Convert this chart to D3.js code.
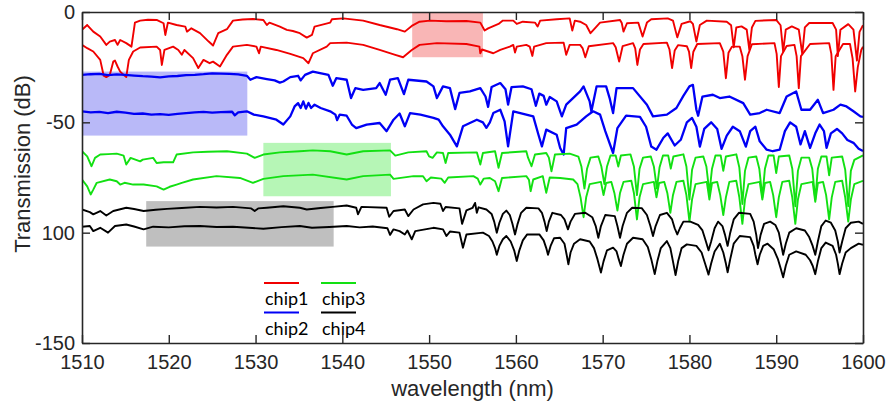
<!DOCTYPE html>
<html>
<head>
<meta charset="utf-8">
<script src="https://cdn.jsdelivr.net/npm/d3@7"></script>
<style>
  html, body { margin: 0; padding: 0; background: #ffffff; }
  svg { display: block; }
</style>
</head>
<body>
<svg id="chart" width="891" height="402"></svg>
<script>
// Axis ticks
const wavelengthTicks = [1510, 1520, 1530, 1540, 1550, 1560, 1570, 1580, 1590, 1600];
const transmissionTicks = [0, -50, -100, -150];
const transmissionTickLabels = ["0", "-50", "100", "-150"];

// Legend entries
const chipNames = ["chip1", "chip2", "chip3", "chip4"];

// Measured spectra: [wavelength (nm), transmission (dB)]
const chip1Upper = [[1510,-8.1],[1510.6,-5.9],[1511.3,-8.9],[1512.1,-11.1],[1512.8,-14.9],[1513.2,-13.4],[1513.8,-12.7],[1514.1,-14.9],[1514.4,-12.7],[1515.1,-14.1],[1515.7,-15.7],[1516.1,-4.8],[1516.7,-3.9],[1517.6,-3.5],[1518.6,-3.6],[1519.4,-5.1],[1519.6,-10.4],[1519.9,-4.8],[1520.9,-5.9],[1521.9,-6.6],[1522.1,-8.9],[1522.6,-7.4],[1523.6,-9.6],[1524.6,-13.4],[1525.1,-15.2],[1525.7,-9.6],[1526.7,-7.8],[1527.4,-3.9],[1528.5,-3.4],[1529.7,-3.2],[1530.9,-3.6],[1531.3,-5.9],[1531.6,-4.8],[1532.8,-6.6],[1533.6,-8.1],[1534.3,-8.6],[1535.1,-9.6],[1535.9,-11.6],[1536.5,-10.4],[1536.8,-6.6],[1538.6,-4.8],[1538.8,-3.3],[1540.1,-2.9],[1542.4,-3.9],[1544.3,-5.9],[1546.3,-7.8],[1547.2,-8.9],[1548,-6.3],[1548.9,-4.4],[1550.1,-3.9],[1552,-4.2],[1554.3,-4.1],[1555.9,-4.8],[1556.4,-8.4],[1556.8,-7.4],[1558,-5.4],[1558.5,-3.9],[1559.7,-3.9],[1560.1,-5.4],[1560.8,-4.4],[1562.2,-4.8],[1562.5,-6.6],[1562.8,-3.9],[1564.7,-3.3],[1566.2,-2.9],[1566.5,-8.4],[1566.8,-3.9],[1567.4,-4.4],[1568.1,-5.9],[1568.6,-9.6],[1569.1,-7.4],[1569.7,-4.8],[1572,-3.6],[1572.2,-5],[1572.4,-8.9],[1572.8,-5.1],[1574.1,-4.8],[1574.6,-11.1],[1575.1,-4.8],[1575.6,-3.3],[1577.5,-2.9],[1578.1,-3.9],[1578.6,-11.5],[1579.1,-5.4],[1580.1,-4.2],[1580.4,-5.4],[1580.8,-13.4],[1581.2,-5.9],[1582,-3.9],[1584.3,-4.4],[1584.8,-6],[1585.1,-16],[1585.4,-7],[1586,-6.5],[1586.6,-8],[1586.9,-17],[1587.2,-7],[1587.6,-4],[1590,-3.6],[1590.5,-6],[1590.8,-18],[1591.1,-8],[1591.8,-6.5],[1592.6,-8],[1593,-19],[1593.3,-7],[1593.8,-5],[1596.5,-5],[1596.9,-8],[1597.1,-20],[1597.4,-8],[1598.3,-5.5],[1598.9,-8],[1599.3,-22],[1599.6,-9],[1600,-6]];

const chip1Lower = [[1510,-14.9],[1510.6,-16.4],[1511.3,-17.9],[1512.1,-21.7],[1512.5,-28.9],[1512.8,-29.5],[1513.2,-28.5],[1513.6,-22.5],[1513.8,-22],[1514.1,-24.7],[1514.4,-27],[1514.8,-28.5],[1515.1,-29.5],[1515.4,-21.7],[1515.9,-17.9],[1516.7,-16.1],[1518.6,-15.7],[1519,-17.2],[1519.2,-24],[1519.5,-17.2],[1520.5,-15.7],[1521.1,-17.2],[1521.5,-19.4],[1521.8,-17.2],[1522.8,-20.9],[1523.4,-25.4],[1524,-21.7],[1524.7,-23.2],[1525.1,-22.5],[1525.9,-24.7],[1526.7,-19.4],[1527.4,-15.7],[1529,-14.9],[1530.1,-15.7],[1530.4,-18.7],[1530.6,-15.7],[1532.4,-17.2],[1534,-19],[1535.5,-20.9],[1536.1,-23.2],[1536.6,-18.7],[1538.2,-15.7],[1538.6,-14.1],[1540.5,-13.9],[1542.4,-14.9],[1544.3,-17.2],[1546.1,-19.4],[1547,-20.5],[1548,-17.2],[1548.9,-14.9],[1550.9,-14.1],[1554.3,-14.5],[1555.8,-15.7],[1555.9,-18.7],[1556.1,-17],[1557.4,-18.7],[1558.2,-17.2],[1559.3,-15.7],[1559.7,-14.9],[1559.9,-18.4],[1560.1,-15.7],[1561.2,-14.9],[1561.6,-15.7],[1561.9,-19.9],[1562.1,-15.7],[1563.5,-14.1],[1565.5,-13.9],[1565.8,-19.4],[1566.2,-14.9],[1567.4,-14.9],[1567.7,-16.5],[1568,-20.5],[1568.4,-15.5],[1571.2,-14.1],[1571.5,-16],[1571.9,-22.5],[1572.3,-15.5],[1573.5,-14.1],[1573.75,-16.5],[1574,-24],[1574.3,-17],[1574.7,-14.5],[1577.4,-13.9],[1577.7,-17],[1578,-25.4],[1578.3,-17.5],[1578.7,-15],[1579.7,-15.5],[1579.95,-18],[1580.2,-25.4],[1580.45,-18],[1580.9,-14.5],[1583.5,-14.1],[1583.9,-18],[1584.2,-30],[1584.5,-18.5],[1584.9,-15.7],[1585.8,-15.7],[1586.1,-20],[1586.4,-30.7],[1586.7,-20],[1587.2,-14.6],[1589.8,-14.1],[1590.05,-19],[1590.3,-34],[1590.55,-20],[1591.2,-15.4],[1592.1,-14.9],[1592.35,-20],[1592.6,-34.5],[1592.85,-20],[1593.9,-14.5],[1596.1,-14.1],[1596.35,-19],[1596.6,-35.3],[1596.85,-20],[1597.7,-14.5],[1598.5,-14.5],[1598.8,-21],[1599.1,-36],[1599.4,-25],[1599.8,-17.2],[1600,-15.7]];

const chip2Upper = [[1510,-28.5],[1511,-28.2],[1512,-28],[1513,-28.6],[1514,-28.3],[1515,-28.5],[1516,-28.8],[1517,-29.1],[1518,-29.3],[1519,-29.6],[1520,-29.2],[1521,-29],[1522,-28.6],[1523,-28.5],[1524,-28.2],[1525,-27.8],[1526,-27.9],[1527,-28],[1528,-28.3],[1529,-28.9],[1529.4,-30.7],[1530.1,-29.5],[1531.3,-30.4],[1532.2,-31],[1532.8,-32],[1533.2,-31.5],[1534,-29.5],[1534.9,-28.9],[1535.2,-31],[1535.7,-28.5],[1536.6,-27],[1538.4,-28.5],[1538.9,-33.4],[1539.3,-30],[1540.5,-30.7],[1541,-39],[1541.5,-34.5],[1542.4,-35.3],[1543.9,-34.5],[1544.3,-32.2],[1545,-37.5],[1545.5,-30.7],[1546.4,-30],[1547.1,-37.2],[1547.6,-30.7],[1549.7,-31.5],[1550.5,-33.7],[1550.9,-39],[1551.6,-33.7],[1552.4,-34.5],[1553,-44],[1553.5,-36.7],[1554.7,-36],[1555.9,-34.5],[1556.5,-38.3],[1556.8,-43],[1557.2,-34],[1558.2,-32.2],[1558.8,-35],[1559.1,-42],[1559.5,-34],[1560.8,-33.7],[1561.8,-35],[1562.3,-42.5],[1562.7,-37],[1563.2,-38],[1563.5,-42],[1563.9,-38.5],[1564.7,-40.5],[1565.3,-47.3],[1565.8,-42],[1567.4,-36],[1567.8,-33.7],[1568.5,-40.5],[1568.7,-45],[1569.3,-33.7],[1570.4,-33.7],[1570.8,-39],[1571.2,-45.8],[1571.6,-34.5],[1573.5,-34.5],[1575.1,-42],[1575.8,-47.3],[1577.4,-46.5],[1578.5,-43.5],[1579.3,-38],[1580,-33.7],[1580.4,-33],[1580.8,-44.3],[1581,-47],[1581.5,-38.3],[1582.7,-37.5],[1583.5,-39],[1584.6,-38.3],[1586.2,-41.3],[1587,-46.5],[1588.1,-45.8],[1588.9,-44.3],[1590.4,-45.8],[1591.2,-38.3],[1592.3,-36],[1592.9,-44.3],[1593.9,-44.3],[1594.8,-39.8],[1595.4,-45.8],[1596.6,-44.3],[1597.4,-42],[1598.1,-42.8],[1598.9,-45],[1599.7,-47.3],[1600,-47.5]];

const chip2Lower = [[1510,-45],[1511,-45.5],[1512,-45.3],[1513,-45.8],[1514,-45.2],[1515,-45.6],[1516,-46.2],[1517,-46],[1518,-46.5],[1519,-46.3],[1520,-46.6],[1521,-46.2],[1522,-45.8],[1523,-45.5],[1524,-45.3],[1525,-45.6],[1526,-45.4],[1527.3,-45.2],[1527.6,-46.8],[1528,-45.5],[1529,-45],[1529.8,-46.5],[1530.9,-47.3],[1532.4,-48.8],[1533.2,-51],[1534,-47.3],[1534.5,-42.8],[1534.9,-41.3],[1535.2,-43.5],[1535.5,-40.5],[1535.8,-43.8],[1536.1,-41.2],[1536.4,-43.5],[1536.8,-42],[1537.5,-43.5],[1538.6,-45],[1539.2,-46.5],[1539.4,-49],[1539.7,-46.5],[1540.5,-47],[1541.1,-51],[1541.6,-52.6],[1542.8,-51],[1544.3,-50.3],[1545.1,-54],[1545.9,-48.8],[1546.6,-46],[1547.2,-51.8],[1547.8,-45.8],[1549,-46.5],[1550.5,-48],[1551.1,-48.8],[1551.6,-51.8],[1552.4,-55.6],[1553.2,-60.9],[1553.9,-51.8],[1555.5,-48.8],[1556.2,-50],[1556.6,-52.5],[1557,-50],[1557.4,-45.8],[1558.2,-44.3],[1558.7,-49.6],[1559.1,-60.9],[1559.7,-45],[1562,-47.3],[1562.6,-55.6],[1563,-60.9],[1563.5,-53.3],[1564.7,-55.6],[1565.1,-61.6],[1565.5,-64.6],[1565.8,-52.6],[1567,-51],[1568.1,-47.3],[1568.9,-45],[1569.7,-46.5],[1570.3,-54],[1571.2,-63.9],[1571.7,-52.6],[1572.7,-47],[1574.3,-47.5],[1575,-52],[1575.6,-61],[1576.2,-62.4],[1577,-57],[1577.5,-55],[1578.3,-60.5],[1579,-57.9],[1579.7,-50],[1580.3,-48],[1580.8,-52],[1581.2,-61],[1581.7,-53],[1582.5,-50],[1583.2,-53],[1583.7,-62],[1584.3,-56],[1585,-52],[1585.8,-54],[1586.5,-61],[1587,-54],[1587.6,-52],[1588.1,-58.6],[1588.9,-62.4],[1589.6,-63.1],[1590.4,-62.4],[1591,-54],[1591.6,-50],[1592.3,-52],[1592.8,-60],[1593.3,-54],[1593.9,-61.6],[1594.5,-55],[1595,-51],[1595.5,-54],[1595.8,-61.6],[1596.3,-55],[1597,-53],[1597.6,-55],[1598.2,-58],[1598.9,-59.3],[1599.5,-62],[1600,-63]];

const chip3Upper = [[1510,-63.1],[1510.6,-65.4],[1511.1,-69.9],[1511.5,-66.1],[1512.1,-64.6],[1513,-64.4],[1514,-64.2],[1514.8,-65.1],[1515.1,-69.1],[1515.6,-66.1],[1516.7,-67.7],[1517,-66.9],[1518.2,-66.1],[1518.6,-68.4],[1519.4,-68.1],[1520.5,-68.1],[1520.9,-64.6],[1522.8,-63.6],[1524.5,-63.3],[1526.7,-63.1],[1529,-64.2],[1529.9,-66.1],[1530.9,-64.6],[1532.8,-63.6],[1535.1,-63.1],[1536.6,-62.7],[1538.6,-63.1],[1540.5,-64.6],[1542.4,-63.1],[1545.5,-62.7],[1546.1,-65.1],[1547.6,-63.6],[1549.7,-63.1],[1550,-65.4],[1550.4,-66.1],[1550.9,-63.6],[1551.6,-63.9],[1551.9,-68.4],[1552.2,-63.9],[1555.5,-63.6],[1555.9,-69.1],[1556.2,-63.9],[1557.6,-63.1],[1558,-70.6],[1558.4,-63.9],[1561.2,-63.1],[1561.4,-66],[1561.8,-69.9],[1562.2,-64.6],[1563.5,-63.9],[1563.8,-66],[1564.1,-72.2],[1564.5,-64.6],[1566.2,-64.2],[1567.2,-65.5],[1567.55,-70],[1567.9,-80],[1568.2,-71],[1568.6,-66],[1569.5,-65.5],[1569.85,-70],[1570.2,-78],[1570.5,-70],[1570.9,-65],[1571.5,-65],[1571.8,-70],[1572.1,-65],[1573.2,-64.5],[1573.6,-70],[1573.95,-83],[1574.25,-71],[1574.65,-66],[1575.55,-65.5],[1575.9,-70],[1576.25,-80],[1576.55,-70.5],[1576.95,-65],[1577.55,-65],[1577.85,-71],[1578.15,-65.5],[1579.3,-64.5],[1579.65,-70],[1580,-85],[1580.3,-71.5],[1580.7,-66],[1581.6,-65.5],[1581.95,-70],[1582.3,-82],[1582.6,-71],[1583,-65],[1583.6,-65],[1583.9,-72],[1584.2,-65.5],[1585.4,-64.5],[1585.75,-70.5],[1586.1,-87],[1586.4,-72],[1586.8,-66],[1587.7,-65.5],[1588.05,-71],[1588.4,-84],[1588.7,-71],[1589.1,-65],[1589.7,-65],[1590,-73],[1590.3,-65.5],[1591.5,-65],[1591.85,-71],[1592.2,-88],[1592.5,-72],[1592.9,-66],[1593.8,-66],[1594.15,-71],[1594.5,-85],[1594.8,-71],[1595.2,-65.5],[1595.8,-65.5],[1596.1,-74],[1596.4,-66],[1597.6,-65.5],[1597.95,-71.5],[1598.3,-88],[1598.6,-72],[1599,-67],[1600,-65]];

const chip3Lower = [[1510,-75.9],[1510.6,-79],[1511,-82.7],[1511.3,-80.5],[1511.7,-77.4],[1513.2,-75.9],[1514,-76.7],[1514.4,-78.2],[1514.9,-77.4],[1515.9,-78.2],[1517.1,-78.2],[1518.6,-79],[1519.4,-80.5],[1520.1,-79.2],[1520.9,-78.2],[1521.5,-77.4],[1522.8,-75.9],[1525.5,-74.4],[1528.2,-75.2],[1529.7,-77.4],[1530.9,-75.6],[1533.2,-74.4],[1536.6,-73.7],[1540.5,-75.9],[1542.4,-74.4],[1545.5,-73.7],[1545.9,-75.6],[1548.2,-74.4],[1549.3,-74.4],[1549.7,-76.7],[1550.2,-75],[1551.4,-75.5],[1551.8,-77.4],[1552.2,-75],[1555.1,-74.4],[1555.6,-75.5],[1555.9,-78.2],[1556.3,-75.5],[1557,-75.2],[1557.6,-76.7],[1558,-81.2],[1558.4,-75.2],[1561.2,-74.4],[1561.5,-76],[1561.7,-81.2],[1562,-75.9],[1563.1,-74.4],[1563.5,-81.9],[1563.9,-75],[1565.1,-75.2],[1566.6,-75.9],[1567.1,-78],[1567.45,-84],[1567.8,-93],[1568.1,-84],[1568.5,-78],[1569.8,-77],[1570.1,-83],[1570.4,-77.5],[1571,-77],[1571.35,-82],[1571.7,-90],[1572,-82],[1572.4,-77],[1573.3,-76.5],[1573.6,-82],[1573.95,-94],[1574.25,-84],[1574.65,-78],[1575.9,-77],[1576.2,-84],[1576.5,-77.5],[1577.1,-77],[1577.45,-82],[1577.8,-91],[1578.1,-83],[1578.5,-77],[1579.3,-76.5],[1579.65,-83],[1580,-95],[1580.3,-85],[1580.7,-78],[1582,-77],[1582.3,-85],[1582.6,-77.5],[1583.2,-77],[1583.55,-83],[1583.9,-92],[1584.2,-84],[1584.6,-77],[1585.4,-76.5],[1585.75,-84],[1586.1,-96],[1586.4,-85],[1586.8,-78],[1588.1,-77],[1588.4,-85],[1588.7,-77.5],[1589.3,-77],[1589.65,-83],[1590,-93],[1590.3,-84],[1590.7,-77],[1591.5,-76.5],[1591.85,-84],[1592.2,-96],[1592.5,-85],[1592.9,-78],[1594.2,-77],[1594.5,-86],[1594.8,-77.5],[1595.4,-77],[1595.75,-83],[1596.1,-94],[1596.4,-84],[1596.8,-77],[1597.6,-76.5],[1597.95,-84],[1598.3,-95],[1598.6,-85],[1599,-78],[1600,-76.5]];

const chip4Upper = [[1510,-89.5],[1510.9,-90.7],[1511.3,-91.7],[1512.1,-90.2],[1512.8,-92.2],[1513.6,-90.2],[1515.1,-88.7],[1516,-89.3],[1517.1,-90.2],[1518.5,-89.6],[1519.8,-89.2],[1521.5,-88.8],[1523.6,-88.3],[1525.5,-88.6],[1527.4,-88.3],[1529.5,-89],[1529.9,-90.2],[1530.3,-89],[1531.3,-88.7],[1533.2,-88],[1535.1,-88.7],[1535.9,-89.5],[1537.5,-88.8],[1538.9,-88.3],[1540.5,-87.7],[1541.6,-88.7],[1541.8,-91.7],[1542.2,-88.3],[1545.1,-88.7],[1545.4,-92.8],[1545.9,-90.2],[1547.2,-89.5],[1547.6,-92.5],[1548.2,-89.5],[1549.3,-87.2],[1550.5,-86.5],[1551.3,-86.9],[1551.6,-90.2],[1551.9,-88.4],[1553.5,-89],[1553.8,-96],[1554.3,-89.9],[1555,-88.8],[1555.3,-86.5],[1555.5,-91],[1555.7,-88.5],[1556.6,-89.5],[1557.2,-91.5],[1557.5,-95],[1557.8,-100],[1558.1,-95.5],[1558.5,-91.5],[1558.9,-90],[1559.3,-92],[1559.6,-96],[1559.9,-100.8],[1560.2,-96],[1560.6,-91],[1561.2,-88.7],[1562.6,-89],[1563,-91],[1563.3,-95],[1563.55,-99.3],[1563.8,-95],[1564.2,-91],[1565.2,-92],[1565.6,-94],[1566,-98.5],[1566.3,-95],[1566.8,-91.5],[1568,-91],[1568.8,-93],[1569.2,-97],[1569.5,-102.3],[1569.8,-97],[1570.3,-92],[1571.4,-92.5],[1571.7,-97],[1572,-102.3],[1572.3,-97],[1572.8,-91],[1573.4,-88.7],[1574.5,-88.9],[1575.1,-92],[1575.5,-97],[1575.8,-101.5],[1576.1,-97],[1576.6,-92],[1577.4,-91],[1578,-94],[1578.3,-98],[1578.6,-100.8],[1578.9,-98],[1579.3,-95],[1580.1,-95],[1581,-96.5],[1581.5,-99],[1581.9,-104],[1582.2,-108],[1582.5,-104],[1582.9,-98],[1583.3,-95],[1583.8,-97],[1584.1,-101],[1584.4,-106],[1584.7,-100],[1585.1,-94],[1585.7,-91],[1587,-91.5],[1587.4,-95],[1587.7,-101],[1587.9,-107],[1588.2,-101],[1588.6,-96],[1589.3,-95],[1589.9,-96.5],[1590.3,-100],[1590.6,-106],[1590.8,-110],[1591.1,-105],[1591.5,-100],[1592.3,-98],[1593.3,-99],[1593.8,-102],[1594.2,-106],[1594.5,-110],[1594.8,-104],[1595.2,-97],[1595.7,-94.5],[1596.3,-95.5],[1596.8,-99],[1597.1,-104],[1597.3,-109],[1597.6,-104],[1598,-98],[1598.6,-95.5],[1599.5,-95],[1600,-96]];

const chip4Lower = [[1510,-97.3],[1510.9,-97],[1511.3,-99.3],[1512.1,-97.8],[1513,-100],[1513.8,-97],[1515.1,-96.3],[1516,-97.2],[1517.1,-98.5],[1518.2,-97.3],[1520,-97.6],[1521.8,-97.1],[1523.6,-97],[1525.5,-97.4],[1527.4,-97.3],[1529.2,-97.8],[1530.9,-98.2],[1533,-97.5],[1535.1,-97],[1536.5,-97.8],[1538.5,-97.4],[1540.5,-97],[1542,-97.6],[1543.5,-97.2],[1545.2,-98],[1545.5,-101],[1545.9,-98.5],[1546.6,-99.3],[1547.2,-100.8],[1547.5,-99],[1548,-103],[1548.4,-99.3],[1550.5,-97.8],[1551.6,-98.5],[1552,-101.5],[1552.4,-99.5],[1553.5,-100],[1553.9,-106.8],[1554.3,-100.8],[1556.2,-100],[1556.9,-101.5],[1557.3,-104],[1557.6,-107],[1557.8,-110],[1558.1,-106],[1558.5,-103],[1558.9,-101.5],[1559.4,-104],[1559.8,-108],[1560.1,-112.8],[1560.4,-108],[1560.8,-103.5],[1561.3,-100.8],[1562.7,-100.8],[1563.2,-103.5],[1563.5,-107],[1563.7,-110],[1564,-106],[1564.4,-102.5],[1565.1,-102.3],[1565.6,-105],[1565.85,-110],[1566.05,-114.3],[1566.3,-109],[1566.7,-105],[1567.4,-103],[1568.5,-104],[1569,-107],[1569.4,-112],[1569.8,-118.1],[1570.1,-113],[1570.5,-108],[1571.2,-106.8],[1571.6,-108.5],[1571.85,-112],[1572.1,-115.1],[1572.4,-110],[1572.8,-105],[1573.5,-102.3],[1574.6,-103],[1575.2,-106.5],[1575.6,-112],[1576,-118.8],[1576.3,-113],[1576.7,-107],[1577.4,-103.8],[1577.8,-107],[1578.1,-113],[1578.4,-119.2],[1578.7,-113],[1579.1,-107],[1579.7,-105.3],[1580.8,-106],[1581.4,-109],[1581.8,-114],[1582.2,-119],[1582.5,-114],[1582.9,-108.5],[1583.5,-105],[1583.9,-109],[1584.2,-114],[1584.4,-118],[1584.7,-112],[1585.1,-105],[1585.8,-101.5],[1587,-102],[1587.4,-106],[1587.6,-110],[1587.85,-114.3],[1588.1,-110],[1588.5,-106],[1589,-105],[1589.7,-107.5],[1590.2,-112],[1590.5,-116],[1590.8,-120.2],[1591.1,-115],[1591.5,-110],[1592.3,-108.5],[1593.4,-110],[1593.9,-112.5],[1594.2,-115],[1594.5,-118.8],[1594.8,-113],[1595.2,-107],[1595.7,-104.5],[1596.5,-106],[1596.9,-110],[1597.1,-114],[1597.3,-118.8],[1597.6,-114],[1598,-109],[1598.6,-107],[1599.5,-105],[1600,-105.5]];

// Highlighted windows: [wavelength start, wavelength end, dB top, dB bottom]
const chip1Window = [1548.05, 1556.2, 0, -20.5];
const chip2Window = [1510, 1529.05, -27, -56];
const chip3Window = [1530.9, 1545.6, -59.3, -83.5];
const chip4Window = [1517.4, 1539.0, -85.7, -106.3];

// ---- drawing ----
const chipColors = ["#f00000", "#0000f5", "#12e012", "#000000"];
const chipStrokes = [1.9, 2.3, 1.9, 1.9];
const windowColors = ["#f9b6b6", "#b9b9f8", "#b6f6b6", "#bfbfbf"];

const svg = d3.select("#chart");
svg.append("rect").attr("width", 891).attr("height", 402).attr("fill", "#ffffff");

const x = d3.scaleLinear().domain([1510, 1600]).range([82, 863]);
const y = d3.scaleLinear().domain([-150, 0]).range([343, 12]);

svg.append("defs").append("clipPath").attr("id", "plot-clip")
  .append("rect")
  .attr("x", x(1510)).attr("y", y(0))
  .attr("width", x(1600) - x(1510)).attr("height", y(-150) - y(0));

const plot = svg.append("g").attr("clip-path", "url(#plot-clip)");

// shaded windows
const windows = [chip1Window, chip2Window, chip3Window, chip4Window];
plot.selectAll("rect.window")
  .data(windows)
  .join("rect")
  .attr("class", "window")
  .attr("x", d => x(d[0]))
  .attr("y", d => y(d[2]))
  .attr("width", d => x(d[1]) - x(d[0]))
  .attr("height", d => y(d[3]) - y(d[2]))
  .attr("fill", (d, i) => windowColors[i]);

// spectra
const line = d3.line().x(d => x(d[0])).y(d => y(d[1]));
const spectra = [
  { data: chip1Upper, chip: 0 }, { data: chip1Lower, chip: 0 },
  { data: chip2Upper, chip: 1 }, { data: chip2Lower, chip: 1 },
  { data: chip3Upper, chip: 2 }, { data: chip3Lower, chip: 2 },
  { data: chip4Upper, chip: 3 }, { data: chip4Lower, chip: 3 }
];
plot.selectAll("path.spectrum")
  .data(spectra)
  .join("path")
  .attr("class", "spectrum")
  .attr("d", d => line(d.data))
  .attr("fill", "none")
  .attr("stroke", d => chipColors[d.chip])
  .attr("stroke-width", d => chipStrokes[d.chip])
  .attr("stroke-linejoin", "round");

// axes (box with inward ticks)
const axisColor = "#262626";
const tickFont = "'Liberation Sans', Arial, Helvetica, sans-serif";

const bottomAxis = svg.append("g")
  .attr("transform", `translate(0,${y(-150)})`)
  .call(d3.axisBottom(x).tickValues(wavelengthTicks).tickFormat(d3.format("d"))
    .tickSizeInner(-8).tickSizeOuter(0).tickPadding(12));
const leftAxis = svg.append("g")
  .attr("transform", `translate(${x(1510)},0)`)
  .call(d3.axisLeft(y).tickValues(transmissionTicks)
    .tickFormat((d, i) => transmissionTickLabels[i])
    .tickSizeInner(-8).tickSizeOuter(0).tickPadding(7));
const topAxis = svg.append("g")
  .attr("transform", `translate(0,${y(0)})`)
  .call(d3.axisTop(x).tickValues(wavelengthTicks).tickFormat("")
    .tickSizeInner(-8).tickSizeOuter(0));
const rightAxis = svg.append("g")
  .attr("transform", `translate(${x(1600)},0)`)
  .call(d3.axisRight(y).tickValues(transmissionTicks).tickFormat("")
    .tickSizeInner(-8).tickSizeOuter(0));

[bottomAxis, leftAxis, topAxis, rightAxis].forEach(g => {
  g.select(".domain").attr("stroke", axisColor).attr("stroke-width", 1.6);
  g.selectAll(".tick line").attr("stroke", axisColor).attr("stroke-width", 1.4);
  g.selectAll(".tick text")
    .attr("fill", axisColor)
    .style("font-family", tickFont)
    .style("font-size", "20px");
});

// axis titles
svg.append("text")
  .attr("x", (x(1510) + x(1600)) / 2)
  .attr("y", 396)
  .attr("text-anchor", "middle")
  .attr("fill", axisColor)
  .style("font-family", tickFont)
  .style("font-size", "22px")
  .text("wavelength (nm)");

svg.append("text")
  .attr("transform", "translate(30,164) rotate(-90)")
  .attr("text-anchor", "middle")
  .attr("fill", axisColor)
  .style("font-family", tickFont)
  .style("font-size", "22px")
  .text("Transmission (dB)");

// legend: two columns, colour sample above each name
const legend = svg.append("g").attr("transform", "translate(264,283)");
chipNames.forEach((name, i) => {
  const col = i < 2 ? 0 : 1;
  const row = i % 2;
  const gx = col * 57;
  const gy = row * 29.5;
  legend.append("line")
    .attr("x1", gx).attr("x2", gx + 35)
    .attr("y1", gy).attr("y2", gy)
    .attr("stroke", chipColors[i]).attr("stroke-width", 1.8);
  legend.append("text")
    .attr("x", gx + 1).attr("y", gy + 22)
    .attr("fill", "#000")
    .style("font-family", "Lato, 'Open Sans', sans-serif")
    .style("font-size", "18px")
    .text(name);
});
</script>
</body>
</html>
